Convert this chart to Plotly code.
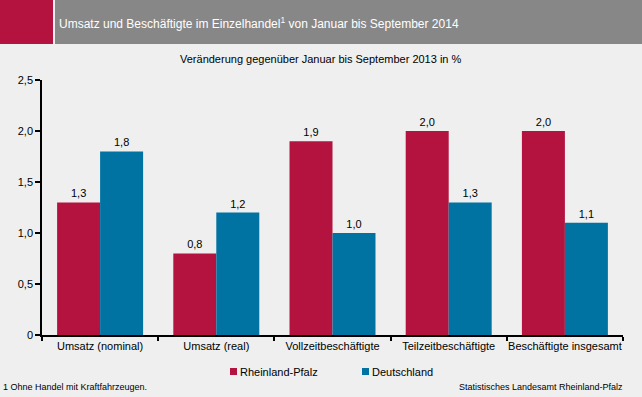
import plotly.graph_objects as go

categories = ["Umsatz (nominal)", "Umsatz (real)", "Vollzeitbeschäftigte",
              "Teilzeitbeschäftigte", "Beschäftigte insgesamt"]
rlp_values = [1.3, 0.8, 1.9, 2.0, 2.0]
de_values = [1.8, 1.2, 1.0, 1.3, 1.1]
series_names = ["Rheinland-Pfalz", "Deutschland"]
ytick_vals = [0, 0.5, 1.0, 1.5, 2.0, 2.5]
ytick_text = ["0", "0,5", "1,0", "1,5", "2,0", "2,5"]

RED = "#B3133E"
BLUE = "#0073A3"
BG = "#EEEFEE"
FONT = "Liberation Sans, Arial, sans-serif"

W, H = 642, 397
L, R, T, B = 42, 19, 80, 62
PW, PH = W - L - R, H - T - B


def px2x(px):
    return (px - L) / PW


def px2y(py):
    return (H - B - py) / PH


def fmt(v):
    return f"{v:.1f}".replace(".", ",")


fig = go.Figure()
colors = [RED, BLUE]
for name, vals, col in zip(series_names, [rlp_values, de_values], colors):
    fig.add_trace(go.Bar(
        x=categories, y=vals, name=name, marker=dict(color=col, line=dict(width=0)),
        text=[fmt(v) for v in vals], textposition="outside",
        textfont=dict(family=FONT, size=11, color="#000000"), cliponaxis=False,
        showlegend=False,
    ))

shapes = [
    dict(type="rect", xref="paper", yref="paper", x0=px2x(0), x1=px2x(53), y0=px2y(44), y1=px2y(0),
         fillcolor=RED, line=dict(width=0), layer="above"),
    dict(type="rect", xref="paper", yref="paper", x0=px2x(55), x1=px2x(642), y0=px2y(44), y1=px2y(0),
         fillcolor="#878787", line=dict(width=0), layer="above"),
]

annotations = [
    dict(text="Umsatz und Beschäftigte im Einzelhandel<sup>1</sup> von Januar bis September 2014",
         xref="paper", yref="paper", x=px2x(57), y=px2y(23), xanchor="left", yanchor="middle",
         showarrow=False, font=dict(family=FONT, size=12, color="#FFFFFF")),
    dict(text="Veränderung gegenüber Januar bis September 2013 in %",
         xref="paper", yref="paper", x=px2x(321), y=px2y(59), xanchor="center", yanchor="middle",
         showarrow=False, font=dict(family=FONT, size=11, color="#000000")),
    dict(text="1 Ohne Handel mit Kraftfahrzeugen.",
         xref="paper", yref="paper", x=px2x(1), y=px2y(387), xanchor="left", yanchor="middle",
         showarrow=False, font=dict(family=FONT, size=9, color="#000000")),
    dict(text="Statistisches Landesamt Rheinland-Pfalz",
         xref="paper", yref="paper", x=px2x(625), y=px2y(387), xanchor="right", yanchor="middle",
         showarrow=False, font=dict(family=FONT, size=9, color="#000000")),
]

# legend (squares + labels)
legend_pos = [230, 362]
for name, col, lx in zip(series_names, colors, legend_pos):
    shapes.append(dict(type="rect", xref="paper", yref="paper",
                       x0=px2x(lx), x1=px2x(lx + 7), y0=px2y(375), y1=px2y(368),
                       fillcolor=col, line=dict(width=0)))
    annotations.append(dict(text=name, xref="paper", yref="paper", x=px2x(lx + 8), y=px2y(371.5),
                            xanchor="left", yanchor="middle", showarrow=False,
                            font=dict(family=FONT, size=11, color="#000000")))

fig.update_layout(
    width=W, height=H, margin=dict(l=L, r=R, t=T, b=B, pad=0),
    paper_bgcolor=BG, plot_bgcolor=BG,
    barmode="group", bargap=0.26, bargroupgap=0,
    font=dict(family=FONT, size=11, color="#000000"),
    showlegend=False,
    shapes=shapes, annotations=annotations,
    xaxis=dict(showgrid=False, showline=True, linecolor="#000000", linewidth=1.5,
               ticks="outside", ticklen=4, tickwidth=1.5, tickcolor="#000000",
               tickson="boundaries", tickangle=0,
               tickfont=dict(family=FONT, size=11, color="#000000"),
               fixedrange=True, zeroline=False),
    yaxis=dict(range=[0, 2.5], showgrid=False, showline=True, linecolor="#000000", linewidth=1.5,
               ticks="outside", ticklen=5, tickwidth=1.5, tickcolor="#000000",
               tickvals=ytick_vals, ticktext=ytick_text,
               tickfont=dict(family=FONT, size=11, color="#000000"), zeroline=False,
               fixedrange=True),
)

fig.write_html("out.html", config={"displayModeBar": False},
               post_script="document.body.style.margin='0';document.body.style.padding='0';")
